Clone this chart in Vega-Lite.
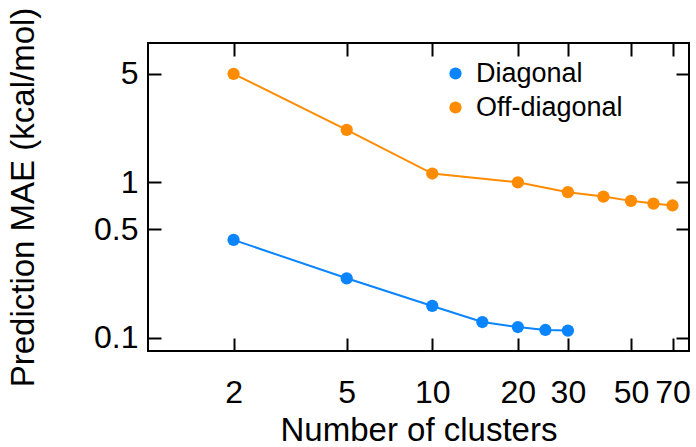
{
  "$schema": "https://vega.github.io/schema/vega-lite/v6.json",
  "width": 541,
  "height": 308,
  "autosize": "none",
  "padding": {"left": 148, "top": 43, "right": 7, "bottom": 96},
  "background": "white",
  "config": {
    "font": "Liberation Sans",
    "view": {"stroke": "black", "strokeWidth": 2},
    "axis": {"grid": false, "domain": false, "tickColor": "black", "tickWidth": 2, "labelColor": "black", "titleColor": "black", "titleFontWeight": "normal"}
  },
  "data": {"values": [
    {"k": 2, "mae": 0.426, "type": "Diagonal"},
    {"k": 5, "mae": 0.241, "type": "Diagonal"},
    {"k": 10, "mae": 0.16, "type": "Diagonal"},
    {"k": 15, "mae": 0.126, "type": "Diagonal"},
    {"k": 20, "mae": 0.117, "type": "Diagonal"},
    {"k": 25, "mae": 0.112, "type": "Diagonal"},
    {"k": 30, "mae": 0.111, "type": "Diagonal"},
    {"k": 2, "mae": 5.0, "type": "Off-diagonal"},
    {"k": 5, "mae": 2.18, "type": "Off-diagonal"},
    {"k": 10, "mae": 1.14, "type": "Off-diagonal"},
    {"k": 20, "mae": 1.0, "type": "Off-diagonal"},
    {"k": 30, "mae": 0.865, "type": "Off-diagonal"},
    {"k": 40, "mae": 0.81, "type": "Off-diagonal"},
    {"k": 50, "mae": 0.76, "type": "Off-diagonal"},
    {"k": 60, "mae": 0.73, "type": "Off-diagonal"},
    {"k": 70, "mae": 0.71, "type": "Off-diagonal"}
  ]},
  "layer": [
    {
      "mark": {"type": "line", "strokeWidth": 2},
      "encoding": {
        "x": {"field": "k", "type": "quantitative", "scale": {"type": "log", "domain": [1, 80], "nice": false},
          "axis": {"values": [2, 5, 10, 20, 30, 50, 70], "title": "Number of clusters", "tickSize": -13, "labelFontSize": 32, "labelPadding": 39, "titleFontSize": 33, "titlePadding": 6, "labelFlush": false, "labelOverlap": false}},
        "y": {"field": "mae", "type": "quantitative", "scale": {"type": "log", "domain": [0.082, 7.9], "nice": false},
          "axis": {"values": [0.1, 0.5, 1, 5], "title": "Prediction MAE (kcal/mol)", "tickSize": -13, "labelFontSize": 32, "labelPadding": 23, "titleFontSize": 33, "titlePadding": 53, "labelFlush": false, "labelOverlap": false}},
        "color": {"field": "type", "type": "nominal", "scale": {"domain": ["Diagonal", "Off-diagonal"], "range": ["#0a84ff", "#ff8c00"]},
          "legend": {"title": null, "orient": "none", "legendX": 294, "legendY": 17, "labelFontSize": 27, "symbolType": "circle", "symbolSize": 150, "symbolStrokeWidth": 0, "rowPadding": 6, "labelOffset": 7, "labelColor": "black"}}
      }
    },
    {
      "mark": {"type": "point", "filled": true, "size": 150, "opacity": 1},
      "encoding": {
        "x": {"field": "k", "type": "quantitative", "axis": {"orient": "top", "values": [2, 5, 10, 20, 30, 50, 70], "labels": false, "title": null, "tickSize": -13}},
        "y": {"field": "mae", "type": "quantitative", "axis": {"orient": "right", "values": [0.1, 0.5, 1, 5], "labels": false, "title": null, "tickSize": -13}},
        "color": {"field": "type", "type": "nominal"}
      }
    }
  ],
  "resolve": {"axis": {"x": "independent", "y": "independent"}}
}
